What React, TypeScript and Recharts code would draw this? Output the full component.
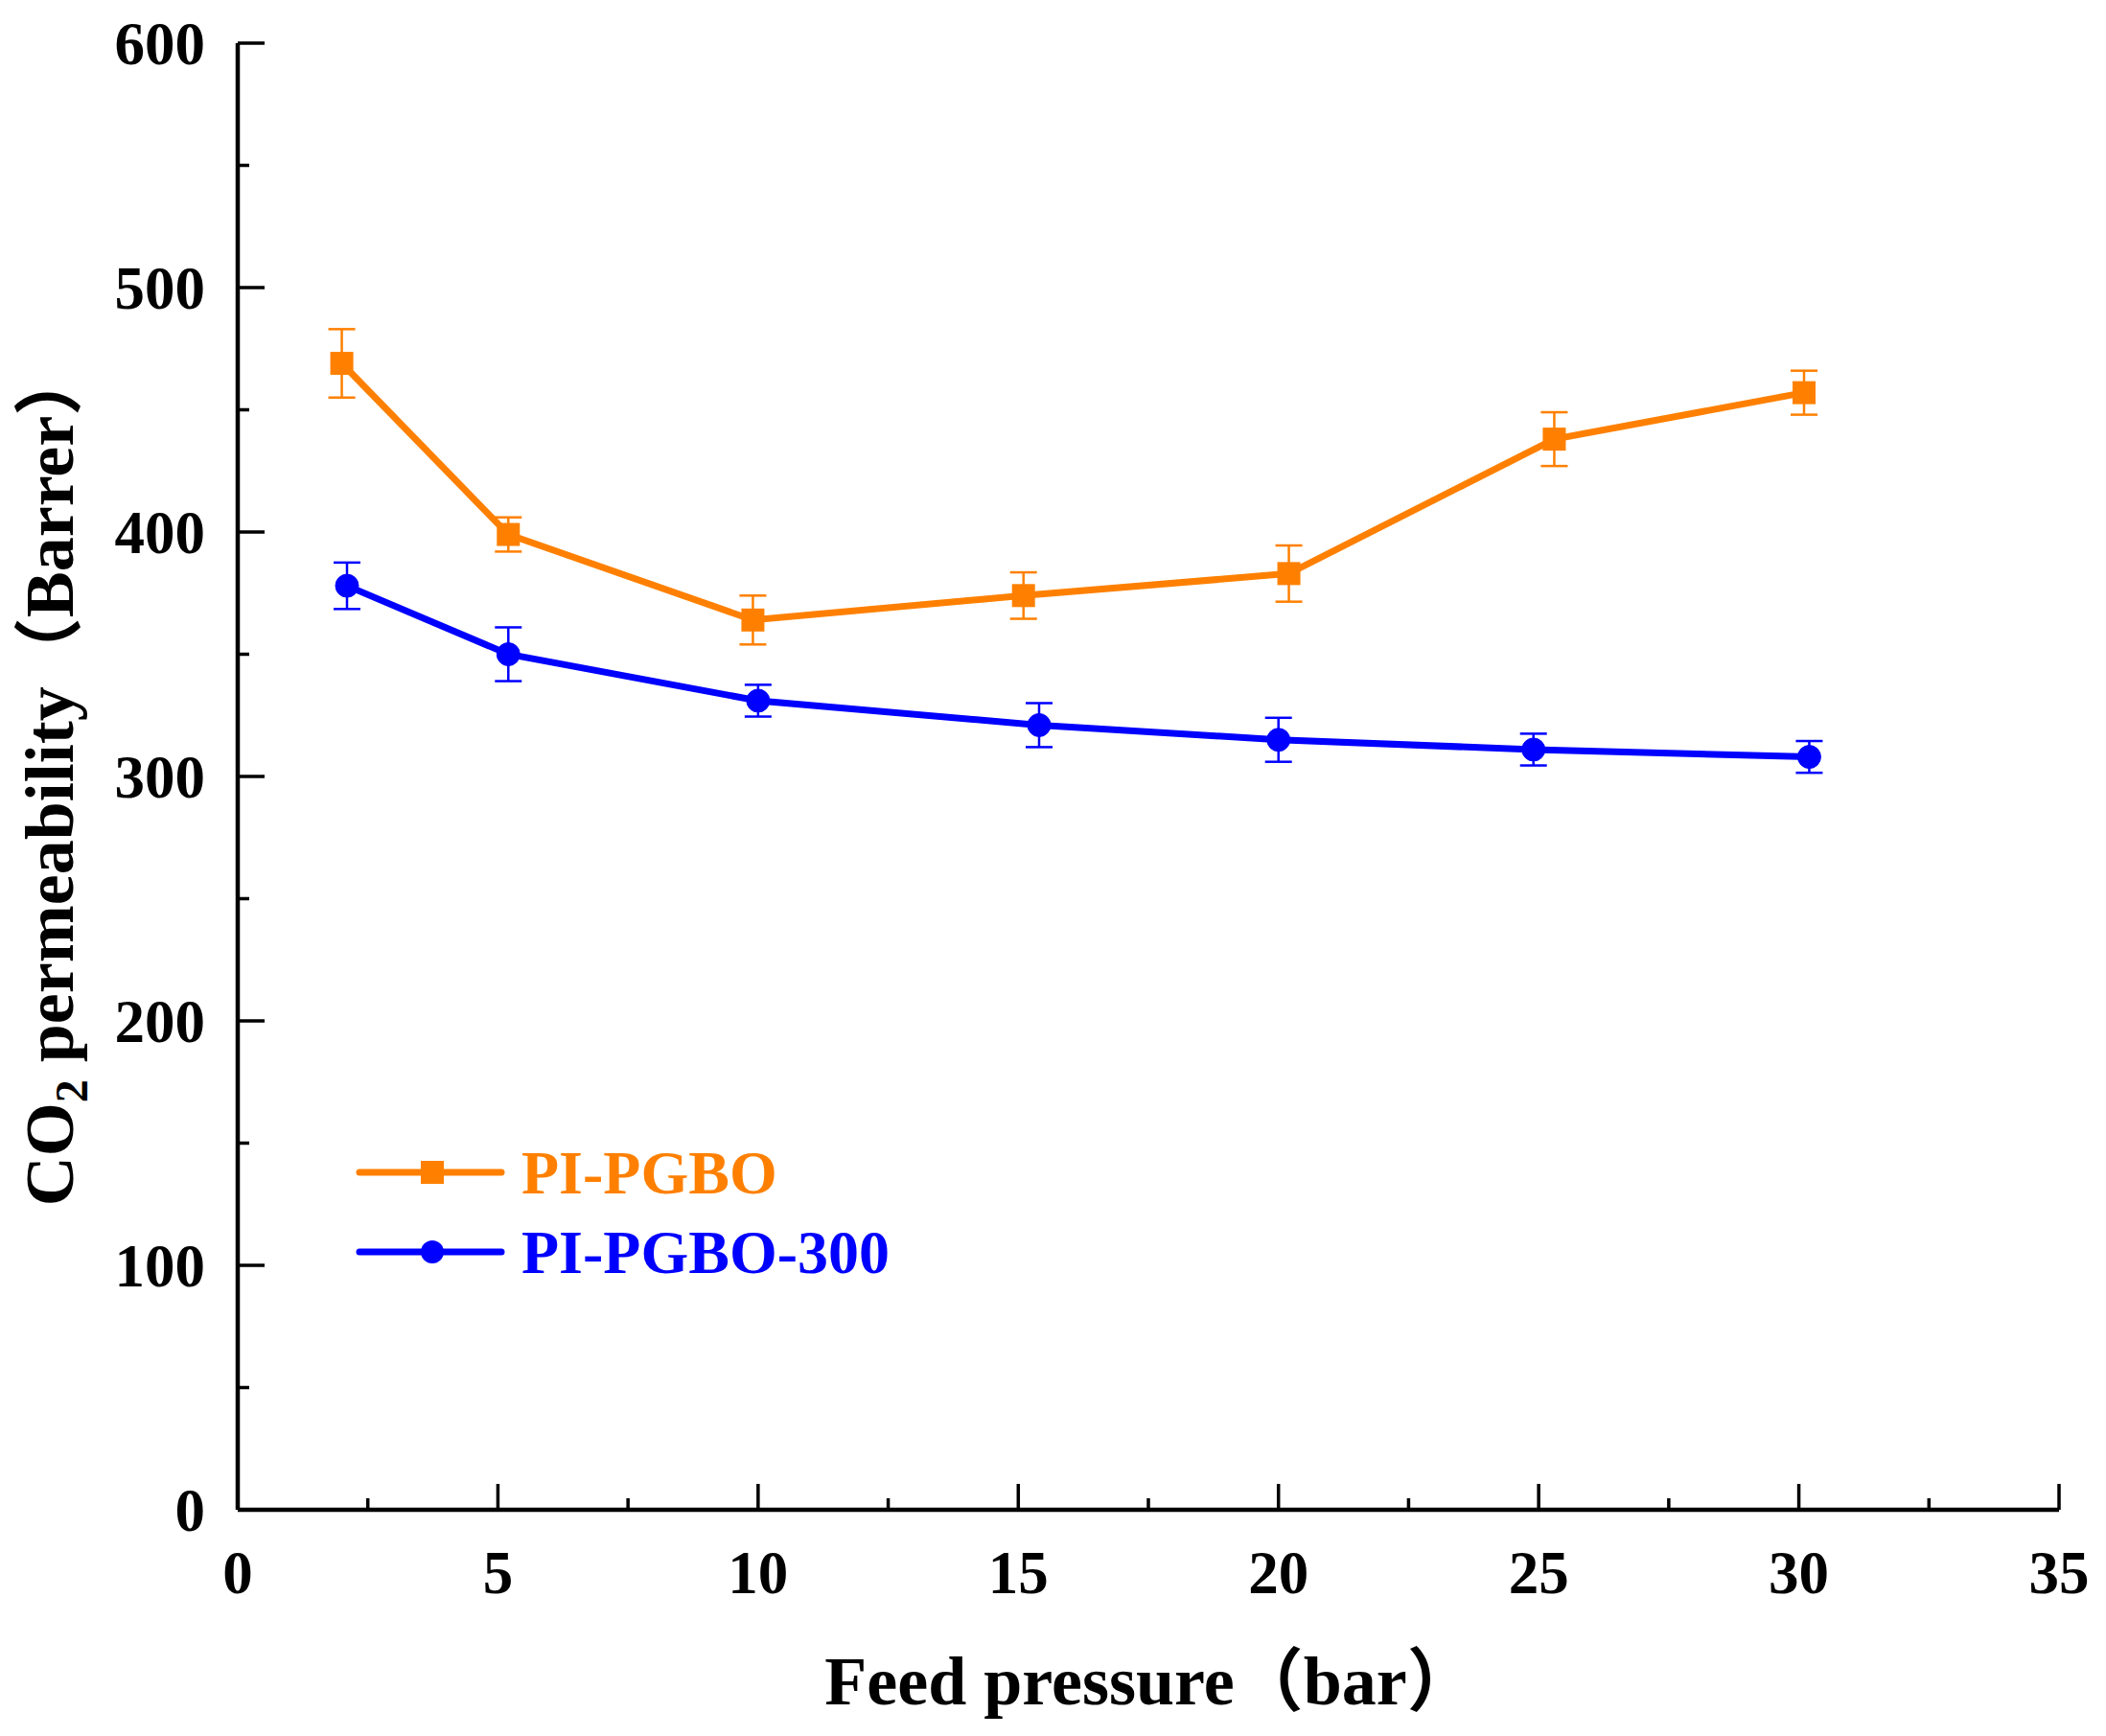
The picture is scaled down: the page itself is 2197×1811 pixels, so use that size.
import { LineChart, Line, XAxis, YAxis, ErrorBar } from 'recharts'

const orangeX = [2.0, 5.2, 9.9, 15.1, 20.2, 25.3, 30.1]
const orangeY = [469, 399, 364, 374, 383, 438, 457]
const orangeErr = [14, 7, 10, 9.5, 11.5, 11, 9]

const blueX = [2.1, 5.2, 10.0, 15.4, 20.0, 24.9, 30.2]
const blueY = [378, 350, 331, 321, 315, 311, 308]
const blueErr = [9.5, 11, 6.5, 9, 9, 6.5, 6.5]

const xTicks = [0, 2.5, 5, 7.5, 10, 12.5, 15, 17.5, 20, 22.5, 25, 27.5, 30, 32.5, 35]
const yTicks = [0, 50, 100, 150, 200, 250, 300, 350, 400, 450, 500, 550, 600]

const seriesNames = ['PI-PGBO', 'PI-PGBO-300']

const ORANGE = '#FF8000'
const BLUE = '#0000FF'
const FONT = '"Liberation Serif", "Times New Roman", "Noto Sans CJK SC", serif'

const W = 2197
const H = 1811
const M = { top: 45, right: 49, left: 0, bottom: 0 }
const Y_AXIS_W = 248
const X_AXIS_H = 236

const orangeData = orangeX.map((x, i) => ({ x, y: orangeY[i], err: orangeErr[i] }))
const blueData = blueX.map((x, i) => ({ x, y: blueY[i], err: blueErr[i] }))

function XTick(props: any) {
  const { x, y, payload } = props
  const v = payload.value
  const major = v % 5 === 0
  return (
    <g>
      <line x1={x} x2={x} y1={y} y2={y - (major ? 27 : 12)} stroke="#000" strokeWidth={3.5} />
      {major && (
        <text x={x} y={y + 87} textAnchor="middle" fontFamily={FONT} fontWeight="bold" fontSize={63} fill="#000">
          {v}
        </text>
      )}
    </g>
  )
}

function YTick(props: any) {
  const { x, y, payload } = props
  const v = payload.value
  const major = v % 100 === 0
  return (
    <g>
      <line x1={x} x2={x + (major ? 28 : 12)} y1={y} y2={y} stroke="#000" strokeWidth={3.5} />
      {major && (
        <text x={x - 34} y={y} dy="0.35em" textAnchor="end" fontFamily={FONT} fontWeight="bold" fontSize={63} fill="#000">
          {v}
        </text>
      )}
    </g>
  )
}

function SquareDot(props: any) {
  const { cx, cy } = props
  if (cx == null || cy == null) return null
  return <rect x={cx - 12} y={cy - 12} width={24} height={24} fill={ORANGE} />
}

const xLabel = () => (
  <text x={1200} y={1778} textAnchor="middle" fontFamily={FONT} fontWeight="bold" fontSize={72} fill="#000">
    Feed pressure（bar）
  </text>
)

const yLabel = () => (
  <text
    x={0}
    y={0}
    transform="translate(76, 810) rotate(-90)"
    textAnchor="middle"
    fontFamily={FONT}
    fontWeight="bold"
    fontSize={72}
    fill="#000"
  >
    CO<tspan fontSize={48} dy={15}>2</tspan>
    <tspan dy={-15}> permeability（Barrer）</tspan>
  </text>
)

export default function App() {
  return (
    <div style={{ position: 'relative', width: W, height: H, background: '#fff' }}>
      <style>{'body{margin:0}'}</style>
      <LineChart width={W} height={H} margin={M}>
        <XAxis
          dataKey="x"
          type="number"
          domain={[0, 35]}
          ticks={xTicks}
          interval={0}
          height={X_AXIS_H}
          tickSize={0}
          tickMargin={0}
          tickLine={false}
          tick={<XTick />}
          axisLine={{ stroke: '#000', strokeWidth: 4.5 }}
          label={xLabel}
        />
        <XAxis
          xAxisId="top"
          orientation="top"
          type="number"
          domain={[0, 35]}
          height={0}
          tick={false}
          tickLine={false}
          axisLine={{ stroke: '#000', strokeWidth: 4.5 }}
        />
        <YAxis
          type="number"
          domain={[0, 600]}
          ticks={yTicks}
          interval={0}
          width={Y_AXIS_W}
          tickSize={0}
          tickMargin={0}
          tickLine={false}
          tick={<YTick />}
          axisLine={{ stroke: '#000', strokeWidth: 4.5 }}
          label={yLabel}
        />
        <YAxis
          yAxisId="right"
          orientation="right"
          type="number"
          domain={[0, 600]}
          width={0}
          tick={false}
          tickLine={false}
          axisLine={{ stroke: '#000', strokeWidth: 4.5 }}
        />
        <Line
          data={orangeData}
          dataKey="y"
          name={seriesNames[0]}
          stroke={ORANGE}
          strokeWidth={7}
          dot={<SquareDot />}
          activeDot={false}
          isAnimationActive={false}
        >
          <ErrorBar dataKey="err" direction="y" width={14} stroke={ORANGE} strokeWidth={2.5} isAnimationActive={false} />
        </Line>
        <Line
          data={blueData}
          dataKey="y"
          name={seriesNames[1]}
          stroke={BLUE}
          strokeWidth={7}
          dot={{ r: 12, fill: BLUE, stroke: BLUE, strokeWidth: 1 }}
          activeDot={false}
          isAnimationActive={false}
        >
          <ErrorBar dataKey="err" direction="y" width={14} stroke={BLUE} strokeWidth={2.5} isAnimationActive={false} />
        </Line>
      </LineChart>
      <svg style={{ position: 'absolute', left: 0, top: 0, pointerEvents: 'none' }} width={W} height={H}>
        <line x1={375} x2={523} y1={1223} y2={1223} stroke={ORANGE} strokeWidth={7} strokeLinecap="round" />
        <rect x={439} y={1211} width={24} height={24} fill={ORANGE} />
        <text x={544} y={1245} fontFamily={FONT} fontWeight="bold" fontSize={64} fill={ORANGE}>
          {seriesNames[0]}
        </text>
        <line x1={375} x2={523} y1={1306} y2={1306} stroke={BLUE} strokeWidth={7} strokeLinecap="round" />
        <circle cx={451} cy={1306} r={12} fill={BLUE} />
        <text x={544} y={1328} fontFamily={FONT} fontWeight="bold" fontSize={64} fill={BLUE}>
          {seriesNames[1]}
        </text>
      </svg>
    </div>
  )
}
